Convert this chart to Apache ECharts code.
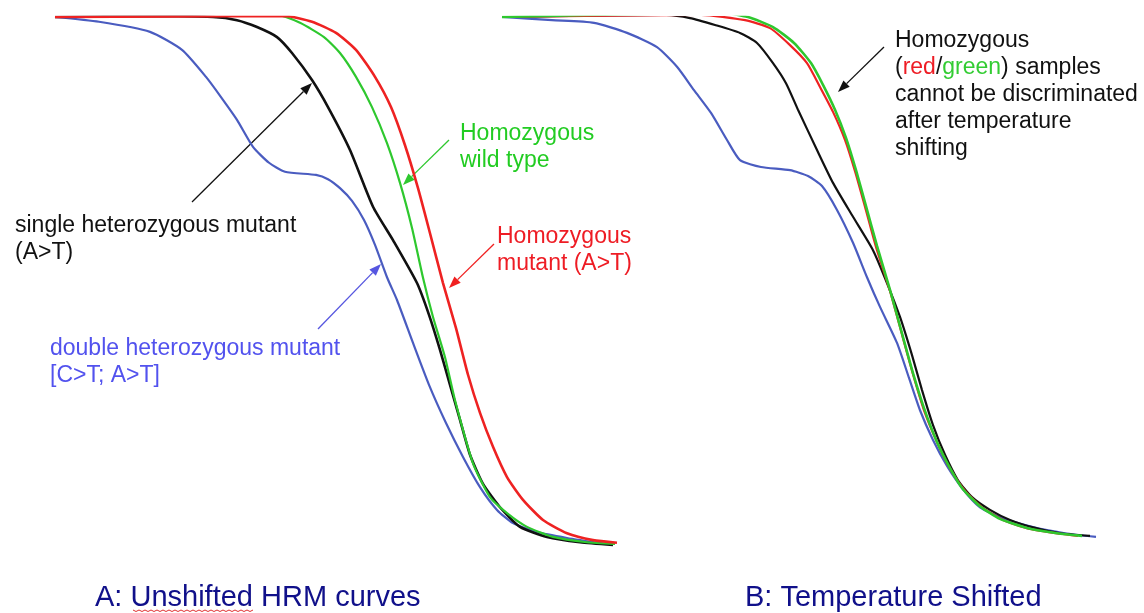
<!DOCTYPE html>
<html><head><meta charset="utf-8">
<script src="https://cdn.jsdelivr.net/npm/echarts@6/dist/echarts.min.js"></script>
<style>html,body{margin:0;padding:0;background:#fff}#c{width:1144px;height:613px}</style>
</head><body><div id="c"></div>
<script>
// Panel A: unshifted HRM melt curves  [temperature (°C), normalized fluorescence (%)]
const aDouble = [[75.0,100],[75.88,99.1],[76.9,97.2],[77.54,93.8],[78.02,88.7],[78.32,84.9],[78.64,80.6],[78.96,75.5],[79.28,72.5],[79.6,70.8],[80.22,70.2],[80.46,69.4],[80.7,67.7],[80.94,65.3],[81.18,61.7],[81.4,57.0],[81.64,50.9],[81.84,46.6],[82.16,38.5],[82.48,30.6],[82.82,23.4],[83.16,17.0],[83.5,11.3],[83.84,7.0],[84.16,4.5],[84.64,2.8],[85.24,1.7],[86.0,0.6]];
const aSingle = [[75.0,100],[76.9,100.2],[78.16,100],[78.64,99.4],[79.04,98.1],[79.44,96.2],[79.74,93.2],[80.14,88.1],[80.46,83.0],[80.9,74.9],[81.36,64.2],[81.76,57.9],[82.24,49.8],[82.48,43.8],[82.7,37.2],[82.9,30.6],[83.1,24.0],[83.3,17.4],[83.56,11.9],[83.9,7.5],[84.3,3.8],[84.84,1.9],[85.5,0.9],[86.16,0.4]];
const aWild = [[75.0,100],[79.44,100.4],[79.9,98.9],[80.38,96.2],[80.7,93.2],[81.02,88.7],[81.34,83.0],[81.64,76.2],[81.9,68.7],[82.14,60.2],[82.36,50.8],[82.56,43.4],[82.8,35.8],[83.0,27.7],[83.36,15.8],[83.7,9.4],[84.04,6.4],[84.44,3.8],[84.96,1.9],[85.64,0.9],[86.2,0.6]];
const aHomMut = [[75.0,100],[79.6,100.2],[80.14,99.1],[80.62,97.0],[81.02,93.8],[81.4,88.7],[81.72,83.0],[82.0,75.8],[82.26,67.7],[82.5,59.2],[82.76,49.8],[83.02,41.3],[83.26,32.5],[83.5,25.3],[83.76,18.9],[84.04,13.2],[84.36,8.9],[84.76,5.1],[85.24,2.6],[85.76,1.3],[86.24,0.8]];

// Panel B: temperature shifted curves
const bDouble = [[75.04,100],[76.04,99.4],[76.88,98.9],[77.54,97.0],[78.14,94.3],[78.54,90.6],[78.88,86.2],[79.22,81.9],[79.54,76.8],[79.8,73.0],[80.22,71.7],[80.8,71.1],[81.16,70.0],[81.44,68.1],[81.74,63.6],[82.06,57.4],[82.34,50.9],[82.6,45.3],[82.94,38.5],[83.18,31.9],[83.4,25.8],[83.66,20.2],[83.94,15.3],[84.26,10.9],[84.6,7.5],[85.04,5.5],[85.64,3.8],[86.3,2.6],[86.92,1.9]];
const bSingle = [[75.04,100],[78.3,100.4],[78.8,99.8],[79.3,98.5],[79.8,97.0],[80.14,95.1],[80.46,91.3],[80.72,87.5],[80.96,82.5],[81.34,74.9],[81.66,68.7],[82.06,62.3],[82.46,56.0],[82.74,49.8],[83.0,43.4],[83.24,36.2],[83.44,29.6],[83.66,23.0],[83.9,17.4],[84.16,12.6],[84.44,9.4],[84.8,7.0],[85.2,5.1],[85.7,3.6],[86.2,2.6],[86.8,2.1]];
const bHomMut = [[75.04,100],[79.0,100.4],[79.9,99.4],[80.4,97.9],[80.8,94.7],[81.14,91.3],[81.4,86.8],[81.66,82.1],[81.9,76.8],[82.1,70.9],[82.3,64.2],[82.52,56.6],[82.8,48.3],[83.06,39.4],[83.26,32.6],[83.48,25.8],[83.76,19.4],[84.02,14.5],[84.3,10.6],[84.64,7.5],[85.06,5.1],[85.6,3.4],[86.2,2.5],[86.56,2.1]];
const bWild = [[75.04,100],[79.46,100.8],[79.96,100],[80.46,98.1],[80.88,95.1],[81.22,91.3],[81.46,87.2],[81.7,82.5],[81.92,77.2],[82.12,71.1],[82.32,64.3],[82.54,56.8],[82.8,48.5],[83.06,39.6],[83.26,32.8],[83.48,26.2],[83.74,19.8],[84.0,14.9],[84.26,10.9],[84.6,7.7],[85.0,5.3],[85.54,3.6],[86.14,2.6],[86.64,2.1]];

const COL = {blue:'#4a5cc0', black:'#111111', green:'#2ec82e', red:'#ee2222'};
const FONT = '"Liberation Sans", Arial, sans-serif';

function arrow(x1,y1,x2,y2,color){
  const a=Math.atan2(y2-y1,x2-x1), L=12, W=4.5;
  const bx=x2-L*Math.cos(a), by=y2-L*Math.sin(a);
  const px=-Math.sin(a)*W, py=Math.cos(a)*W;
  return [
    {type:'line',silent:true,shape:{x1:x1,y1:y1,x2:bx,y2:by},style:{stroke:color,lineWidth:1.3}},
    {type:'polygon',silent:true,shape:{points:[[x2,y2],[bx+px,by+py],[bx-px,by-py]]},style:{fill:color}}
  ];
}
function label(x,y,text,color,size,lh,rich){
  const st={x:x,y:y,text:text,fill:color,font:size+'px '+FONT,lineHeight:lh,verticalAlign:'top',align:'left'};
  if(rich) st.rich=rich;
  return {type:'text',silent:true,style:st};
}
function line(data,color,xi,w){
  return {type:'line',xAxisIndex:xi,yAxisIndex:xi,data:data,showSymbol:false,symbol:'none',smooth:0.2,
    lineStyle:{color:color,width:w||2.2},itemStyle:{color:color},animation:false};
}

const chart = echarts.init(document.getElementById('c'));
const gfx = [].concat(
  arrow(192,202,312,83,'#111'),
  arrow(449,140,403,185,COL.green),
  arrow(494,244,449,288,'#f02020'),
  arrow(318,329,381,264,'#5656e0'),
  arrow(884,47,838,92,'#111'),
  [
    label(15,212,'single heterozygous mutant\n(A>T)','#111',23,27),
    label(460,120,'Homozygous\nwild type','#22cc22',23,27),
    label(497,223,'Homozygous\nmutant (A>T)','#ee1c24',23,27),
    label(50,335,'double heterozygous mutant\n[C>T; A>T]','#5252ee',23,27),
    label(895,27,'Homozygous\n({r|red}/{g|green}) samples\ncannot be discriminated\nafter temperature\nshifting','#111',23,27,
      {r:{fill:'#ee1c24',font:'23px '+FONT,lineHeight:27},g:{fill:'#33cc33',font:'23px '+FONT,lineHeight:27}}),
    label(95,582,'A: Unshifted HRM curves','#10108a',29,32),
    label(745,582,'B: Temperature Shifted','#10108a',29,32),
    {type:'polyline',silent:true,shape:{points:(function(){const p=[];for(let i=0;i<=40;i++){p.push([133+i*3,610+(i%2?1.5:0)]);}return p;})()},style:{stroke:'#e03030',lineWidth:1}}
  ]
);

chart.setOption({
  backgroundColor:'#ffffff',
  animation:false,
  grid:[
    {left:55,top:17,width:565,height:530},
    {left:500,top:17,width:600,height:530}
  ],
  xAxis:[
    {type:'value',gridIndex:0,min:75,max:86.3,show:false},
    {type:'value',gridIndex:1,min:75,max:87,show:false}
  ],
  yAxis:[
    {type:'value',gridIndex:0,min:0,max:100,show:false},
    {type:'value',gridIndex:1,min:0,max:100,show:false}
  ],
  series:[
    line(aDouble,COL.blue,0),
    line(aSingle,COL.black,0,2.6),
    line(aWild,COL.green,0),
    line(aHomMut,COL.red,0,2.6),
    line(bDouble,COL.blue,1),
    line(bSingle,COL.black,1),
    line(bHomMut,COL.red,1),
    line(bWild,COL.green,1,2.6)
  ],
  graphic:gfx
});
</script>
</body></html>
